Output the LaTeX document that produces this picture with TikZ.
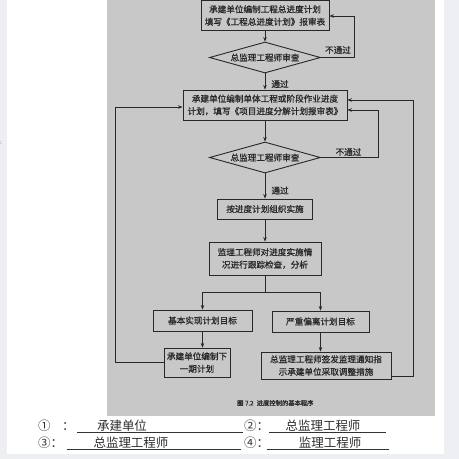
\documentclass[tikz,border=0pt]{standalone}
\usepackage{fontspec}
\newfontfamily\cjk{Noto Sans CJK SC}
\newfontfamily\cjkb{Noto Sans CJK SC}[FakeBold=0.9]
\usetikzlibrary{shapes.geometric,arrows.meta,calc}
\definecolor{pagebg}{RGB}{238,239,243}
\definecolor{photo}{RGB}{200,200,200}
\definecolor{ink}{RGB}{40,40,40}
\tikzset{
 procbox/.style={draw=ink, line width=0.9pt, inner sep=0pt, align=center, text=ink, font=\cjkb\fontsize{8.6}{12.5}\selectfont},
 decbox/.style={draw=ink, line width=0.9pt, diamond, aspect=3.6, inner sep=0pt, text=ink, font=\cjkb\fontsize{8.6}{12.5}\selectfont, minimum width=111pt, minimum height=31pt},
 flow/.style={draw=ink, line width=0.9pt, -{Stealth[length=4.5pt,width=3.5pt]}},
 lbl/.style={text=ink, inner sep=0pt, font=\cjkb\fontsize{8.6}{10}\selectfont},
 capt/.style={text=ink, inner sep=0pt, font=\cjkb\fontsize{6.3}{8}\selectfont},
 ans/.style={font=\cjk\fontsize{12.5}{14}\selectfont, text=black!82, inner sep=0pt},
 uline/.style={draw=black!80, line width=0.7pt}
}
\begin{document}
\begin{tikzpicture}[x=1pt,y=-1pt]
\useasboundingbox (0,0) rectangle (459,459);
\fill[pagebg] (0,0) rectangle (459,459);
\fill[white] (7,0) rectangle (444,454);
\fill[photo] (107,0) rectangle (435,416);
\node[inner sep=0pt, text=black!70, font=\fontsize{7}{8}\selectfont] (mark) at (1,143) {:};

% flow nodes
\node[procbox, minimum width=128pt, minimum height=30pt] (b1) at (265,15.5) {承建单位编制工程总进度计划\\填写《工程总进度计划》报审表};
\node[decbox] (d1) at (265,57.5) {总监理工程师审查};
\node[procbox, minimum width=164pt, minimum height=30pt] (b2) at (265,105) {承建单位编制单体工程或阶段作业进度\\计划，填写《项目进度分解计划报审表》};
\node[decbox] (d2) at (265,157.5) {总监理工程师审查};
\node[procbox, minimum width=95pt, minimum height=20pt] (b3) at (265,209) {按进度计划组织实施};
\node[procbox, minimum width=112pt, minimum height=33pt] (b4) at (265,258.5) {监理工程师对进度实施情\\况进行跟踪检查，分析};
\node[procbox, minimum width=99pt, minimum height=21pt] (b5) at (202.5,320.5) {基本实现计划目标};
\node[procbox, minimum width=97pt, minimum height=21pt] (b6) at (320.5,321.5) {严重偏离计划目标};
\node[procbox, minimum width=66pt, minimum height=29pt] (b7) at (197,362.5) {承建单位编制下\\一期计划};
\node[procbox, minimum width=130pt, minimum height=27pt] (b8) at (326,365.5) {总监理工程师签发监理通知指\\示承建单位采取调整措施};

% labels
\node[lbl] (p1) at (280,84) {通过};
\node[lbl] (p2) at (280,190.5) {通过};
\node[lbl] (f1) at (338,50) {不通过};
\node[lbl] (f2) at (348.5,152) {不通过};
\node[capt, anchor=west] (cap) at (237,403) {图 7.2\enspace 进度控制的基本程序};

% main spine
\draw[flow] (b1.south) -- (d1.north);
\draw[flow] (d1.south) -- (b2.north);
\draw[flow] (b2.south) -- (d2.north);
\draw[flow] (d2.south) -- (b3.north);
\draw[flow] (b3.south) -- (b4.north);
\coordinate (br) at (265,292);
\draw[flow] (b4.south) -- (br) -| (b5.north);
\draw[flow] (br) -| (b6.north);
\draw[flow] (b5.south) -- (b5.south |- b7.north);
\draw[flow] (b6.south) -- (b6.south |- b8.north);

% loops
\coordinate (t1) at (354,57.5);
\coordinate (t2) at (354,16);
\draw[flow] (d1.east) -- (t1) -- (t2) -- (t2 -| b1.east);
\coordinate (t3) at (378,157.5);
\coordinate (t4) at (378,110);
\draw[flow] (d2.east) -- (t3) -- (t4) -- (t4 -| b2.east);
\coordinate (t5) at (413,376);
\coordinate (t6) at (413,100);
\draw[flow] (t5 -| b8.east) -- (t5) -- (t6) -- (t6 -| b2.east);
\coordinate (t7) at (115,362);
\coordinate (t8) at (115,107);
\draw[flow] (t7 -| b7.west) -- (t7) -- (t8) -- (t8 -| b2.west);

% answers
\node[ans, anchor=base west] (c1) at (38,430) {①};
\node[ans, anchor=base west] (c1b) at (62,430) {：};
\node[ans, anchor=base] (a1) at (122,430) {承建单位};
\draw[uline] (77,432.5) -- (243,432.5);
\node[ans, anchor=base west] (c2) at (244,430) {②：};
\node[ans, anchor=base] (a2) at (323,430) {总监理工程师};
\draw[uline] (269,432.5) -- (386,432.5);
\node[ans, anchor=base west] (c3) at (38,447) {③：};
\node[ans, anchor=base] (a3) at (131,447) {总监理工程师};
\draw[uline] (67,449.5) -- (241,449.5);
\node[ans, anchor=base west] (c4) at (244,447) {④：};
\node[ans, anchor=base] (a4) at (330,447) {监理工程师};
\draw[uline] (267,449.5) -- (389,449.5);
\end{tikzpicture}
\end{document}
